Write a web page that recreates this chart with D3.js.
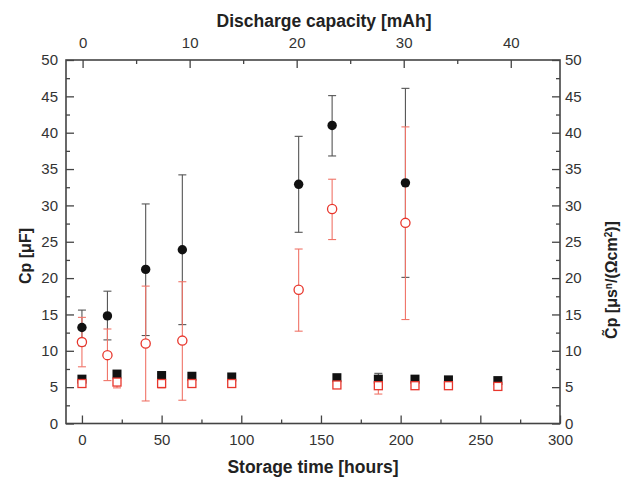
<!DOCTYPE html>
<html><head><meta charset="utf-8">
<script src="https://cdn.jsdelivr.net/npm/d3@7"></script>
<style>
body{margin:0;background:#fff}
text{font-family:"Liberation Sans",Arial,Helvetica,sans-serif}
</style>
</head><body>
<svg id="chart" width="622" height="477"></svg>
<script>
// ---- data ----
const circleHours      = [0, 16, 40, 63, 136, 157, 203];
const cpValues         = [13.2, 14.8, 21.2, 23.9, 32.9, 41.0, 33.1];
const cpErrLow         = [10.7, 11.5, 12.1, 13.6, 26.3, 36.8, 20.1];
const cpErrHigh        = [15.6, 18.2, 30.2, 34.2, 39.5, 45.1, 46.1];
const cpTildeValues    = [11.2, 9.4, 11.0, 11.4, 18.4, 29.5, 27.6];
const cpTildeErrLow    = [7.8, 5.9, 3.1, 3.2, 12.7, 25.3, 14.3];
const cpTildeErrHigh   = [14.6, 13.0, 18.9, 19.5, 24.0, 33.6, 40.8];

const squareHours         = [0, 22, 50, 69, 94, 160, 186, 209, 230, 261];
const cpSquareValues      = [6.1, 6.8, 6.6, 6.5, 6.4, 6.3, 6.1, 6.1, 6.0, 5.9];
const cpSquareErr         = [0, 0.3, 0.2, 0.2, 0, 0, 0.8, 0, 0, 0];
const cpTildeSquareValues = [5.5, 5.7, 5.5, 5.5, 5.5, 5.3, 5.2, 5.2, 5.2, 5.1];
const cpTildeSquareErr    = [0, 0.8, 0.6, 0.5, 0, 0, 1.15, 0, 0, 0];

const bottomTicks      = [0, 50, 100, 150, 200, 250, 300];
const bottomMinorTicks = [25, 75, 125, 175, 225, 275];
const topTicks         = [0, 10, 20, 30, 40];
const topMinorTicks    = [5, 15, 25, 35];
const yTicks           = [0, 5, 10, 15, 20, 25, 30, 35, 40, 45, 50];
const yMinorTicks      = [2.5, 7.5, 12.5, 17.5, 22.5, 27.5, 32.5, 37.5, 42.5, 47.5];

// ---- layout ----
const L = 66, R = 560, T = 60, B = 423.5;
const svg = d3.select("#chart");

const x  = d3.scaleLinear().domain([-10, 300]).range([L, R]);
const xt = d3.scaleLinear().domain([-1.55, 44.6]).range([L, R]);
const y  = d3.scaleLinear().domain([0, 50]).range([B, T]);
const y2 = d3.scaleLinear().domain([0, 50]).range([B, T]);

const axisColor = "#444", labelColor = "#333";

function styleAxis(g){
  g.select(".domain").remove();
  g.selectAll(".tick line").attr("stroke", axisColor).attr("stroke-width", 1.3);
  g.selectAll(".tick text").attr("fill", labelColor).style("font-size", "15px");
}

// bottom
svg.append("g").attr("transform", `translate(0,${B})`)
  .call(d3.axisBottom(x).tickValues(bottomTicks).tickSizeInner(-8).tickSizeOuter(0).tickPadding(11))
  .call(styleAxis);
svg.append("g").attr("transform", `translate(0,${B})`)
  .call(d3.axisBottom(x).tickValues(bottomMinorTicks).tickFormat("").tickSizeInner(-4).tickSizeOuter(0))
  .call(styleAxis);
// top
svg.append("g").attr("transform", `translate(0,${T})`)
  .call(d3.axisTop(xt).tickValues(topTicks).tickSizeInner(-8).tickSizeOuter(0).tickPadding(12))
  .call(styleAxis);
svg.append("g").attr("transform", `translate(0,${T})`)
  .call(d3.axisTop(xt).tickValues(topMinorTicks).tickFormat("").tickSizeInner(-4).tickSizeOuter(0))
  .call(styleAxis);
// left
svg.append("g").attr("transform", `translate(${L},0)`)
  .call(d3.axisLeft(y).tickValues(yTicks).tickSizeInner(-8).tickSizeOuter(0).tickPadding(8))
  .call(styleAxis);
svg.append("g").attr("transform", `translate(${L},0)`)
  .call(d3.axisLeft(y).tickValues(yMinorTicks).tickFormat("").tickSizeInner(-4).tickSizeOuter(0))
  .call(styleAxis);
// right
svg.append("g").attr("transform", `translate(${R},0)`)
  .call(d3.axisRight(y2).tickValues(yTicks).tickSizeInner(-8).tickSizeOuter(0).tickPadding(5))
  .call(styleAxis);
svg.append("g").attr("transform", `translate(${R},0)`)
  .call(d3.axisRight(y2).tickValues(yMinorTicks).tickFormat("").tickSizeInner(-4).tickSizeOuter(0))
  .call(styleAxis);

// frame
svg.append("rect").attr("x", L).attr("y", T).attr("width", R - L).attr("height", B - T)
  .attr("fill", "none").attr("stroke", axisColor).attr("stroke-width", 1.6);

// titles
svg.append("text").attr("x", 324).attr("y", 27).attr("text-anchor", "middle")
  .style("font-size", "17.5px").style("font-weight", "bold").attr("fill", "#222")
  .text("Discharge capacity [mAh]");
svg.append("text").attr("x", 313).attr("y", 473).attr("text-anchor", "middle")
  .style("font-size", "17.5px").style("font-weight", "bold").attr("fill", "#222")
  .text("Storage time [hours]");
svg.append("text").attr("transform", "translate(31,256) rotate(-90)").attr("text-anchor", "middle")
  .style("font-size", "16px").style("font-weight", "bold").attr("fill", "#222")
  .text("Cp [μF]");
const rt = svg.append("text").attr("transform", "translate(617,280) rotate(-90)").attr("text-anchor", "middle")
  .style("font-size", "16px").style("font-weight", "bold").attr("fill", "#222");
rt.append("tspan").text("C\u0303p [μs");
rt.append("tspan").attr("baseline-shift", "super").style("font-size", "10px").text("n");
rt.append("tspan").text("/(Ωcm");
rt.append("tspan").attr("baseline-shift", "super").style("font-size", "10px").text("2");
rt.append("tspan").text(")]");

// ---- marks ----
const blackBar = "#555", redBar = "#f07468", red = "#e8362c", black = "#111";
const cap = 4;

function errorBars(xs, lows, highs, color, yScale){
  const g = svg.append("g").attr("stroke", color).attr("stroke-width", 1.1).attr("fill", "none");
  xs.forEach((h, i) => {
    if (lows[i] === highs[i]) return;
    const cx = x(h), y0 = yScale(lows[i]), y1 = yScale(highs[i]);
    g.append("line").attr("x1", cx).attr("x2", cx).attr("y1", y0).attr("y2", y1);
    g.append("line").attr("x1", cx - cap).attr("x2", cx + cap).attr("y1", y0).attr("y2", y0);
    g.append("line").attr("x1", cx - cap).attr("x2", cx + cap).attr("y1", y1).attr("y2", y1);
  });
}

errorBars(squareHours, squareHours.map((d,i)=>cpSquareValues[i]-cpSquareErr[i]),
          squareHours.map((d,i)=>cpSquareValues[i]+cpSquareErr[i]), blackBar, y);
errorBars(circleHours, cpErrLow, cpErrHigh, blackBar, y);
errorBars(squareHours, squareHours.map((d,i)=>cpTildeSquareValues[i]-cpTildeSquareErr[i]),
          squareHours.map((d,i)=>cpTildeSquareValues[i]+cpTildeSquareErr[i]), redBar, y2);
errorBars(circleHours, cpTildeErrLow, cpTildeErrHigh, redBar, y2);

// black squares
svg.append("g").selectAll("rect").data(squareHours).join("rect")
  .attr("x", (d) => x(d) - 4.5).attr("y", (d, i) => y(cpSquareValues[i]) - 4.5)
  .attr("width", 9).attr("height", 9).attr("fill", black);
// black circles
svg.append("g").selectAll("circle").data(circleHours).join("circle")
  .attr("cx", (d) => x(d)).attr("cy", (d, i) => y(cpValues[i])).attr("r", 4.7).attr("fill", black);
// red open squares
svg.append("g").selectAll("rect").data(squareHours).join("rect")
  .attr("x", (d) => x(d) - 4).attr("y", (d, i) => y2(cpTildeSquareValues[i]) - 4)
  .attr("width", 8).attr("height", 8).attr("fill", "#fff").attr("stroke", red).attr("stroke-width", 1.3);
// red open circles
svg.append("g").selectAll("circle").data(circleHours).join("circle")
  .attr("cx", (d) => x(d)).attr("cy", (d, i) => y2(cpTildeValues[i])).attr("r", 4.6)
  .attr("fill", "#fff").attr("stroke", red).attr("stroke-width", 1.3);
</script>
</body></html>
